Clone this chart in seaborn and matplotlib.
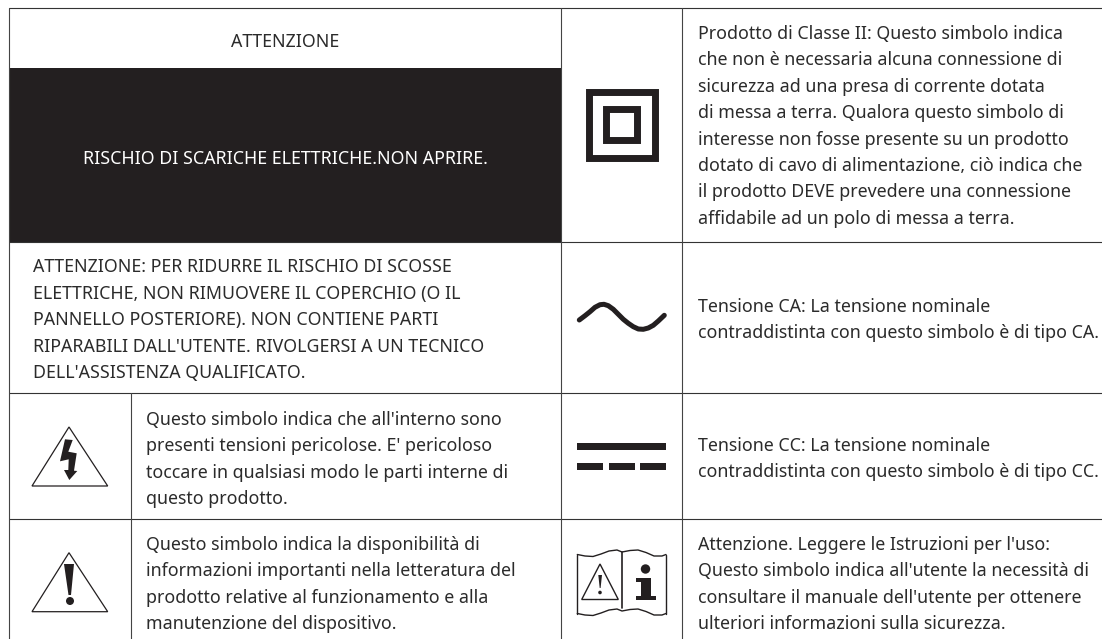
import matplotlib
matplotlib.use("Agg")
import matplotlib.pyplot as plt
import seaborn as sns
from matplotlib.patches import Polygon, Rectangle, Circle

# Text of the table, line by line
title_text = "ATTENZIONE"
banner_text = "RISCHIO DI SCARICHE ELETTRICHE.NON APRIRE."
warning_lines = [
    "ATTENZIONE: PER RIDURRE IL RISCHIO DI SCOSSE",
    "ELETTRICHE, NON RIMUOVERE IL COPERCHIO (O IL",
    "PANNELLO POSTERIORE). NON CONTIENE PARTI",
    "RIPARABILI DALL'UTENTE. RIVOLGERSI A UN TECNICO",
    "DELL'ASSISTENZA QUALIFICATO.",
]
bolt_lines = [
    "Questo simbolo indica che all'interno sono",
    "presenti tensioni pericolose. E' pericoloso",
    "toccare in qualsiasi modo le parti interne di",
    "questo prodotto.",
]
excl_lines = [
    "Questo simbolo indica la disponibilità di",
    "informazioni importanti nella letteratura del",
    "prodotto relative al funzionamento e alla",
    "manutenzione del dispositivo.",
]
class2_lines = [
    "Prodotto di Classe II: Questo simbolo indica",
    "che non è necessaria alcuna connessione di",
    "sicurezza ad una presa di corrente dotata",
    "di messa a terra. Qualora questo simbolo di",
    "interesse non fosse presente su un prodotto",
    "dotato di cavo di alimentazione, ciò indica che",
    "il prodotto DEVE prevedere una connessione",
    "affidabile ad un polo di messa a terra.",
]
ac_lines = [
    "Tensione CA: La tensione nominale",
    "contraddistinta con questo simbolo è di tipo CA.",
]
dc_lines = [
    "Tensione CC: La tensione nominale",
    "contraddistinta con questo simbolo è di tipo CC.",
]
manual_lines = [
    "Attenzione. Leggere le Istruzioni per l'uso:",
    "Questo simbolo indica all'utente la necessità di",
    "consultare il manuale dell'utente per ottenere",
    "ulteriori informazioni sulla sicurezza.",
]

# Traced icon outlines
wave_x = [579.3, 585, 590, 595, 600, 604, 608.3, 613.3, 618.3, 623.3, 628.3, 633.3, 638.3, 643.3, 648.3, 653.3, 658.3, 664.3]
wave_y = [320, 315.7, 311.7, 307.3, 304.7, 304.3, 305.7, 309.3, 314.3, 319.3, 323.3, 326.7, 329, 329.3, 328, 325.3, 321, 315.3]
bolt_x = [65, 72.7, 68.3, 76.7, 74, 77.3, 69.3, 64, 68.3, 68.7, 60]
bolt_y = [439.3, 440, 451.7, 453.3, 470.7, 471, 480, 470, 470, 459.3, 461.3]
book_top_x = [577.3, 585, 593, 601, 609, 617, 622, 630, 638, 646, 654, 662, 666]
book_top_y = [554.5, 556, 556.5, 554, 551, 550, 552, 550.5, 550, 552.5, 556, 556, 554.5]

DARK = "#231f20"
TEXT = "#2b2b2b"
FONT = 12.8
GAP = 26.4

sns.set_theme(style="white")
plt.rcParams["font.family"] = ["Noto Sans", "DejaVu Sans"]

fig, ax = plt.subplots(figsize=(11.02, 6.39), dpi=100)
ax.set_position([0, 0, 1, 1])
ax.set_xlim(0, 1102)
ax.set_ylim(639, 0)
ax.axis("off")

# banner
ax.add_patch(Rectangle((9, 68), 552, 174, color=DARK, lw=0))

# rules, no line along the bottom edge
for y in [8, 241.5, 393, 519]:
    ax.plot([9, 1102], [y, y], color="#333333", lw=0.8)
for x in [9, 561, 682]:
    ax.plot([x, x], [8, 639], color="#444444", lw=0.8)
ax.plot([130.5, 130.5], [393, 639], color="#444444", lw=0.8)


def put_lines(lines, x, first_base):
    for i, line in enumerate(lines):
        ax.text(x, first_base + i * GAP, line, fontsize=FONT, color=TEXT, va="baseline")


ax.text(285, 46.7, title_text, fontsize=FONT, color=TEXT, ha="center", va="baseline")
ax.text(285, 163.5, banner_text, fontsize=FONT, color="white", ha="center", va="baseline")
put_lines(warning_lines, 33, 272.5)
put_lines(bolt_lines, 146, 425)
put_lines(excl_lines, 146, 550)
put_lines(class2_lines, 698.5, 39)
put_lines(ac_lines, 698.5, 312)
put_lines(dc_lines, 698.5, 451)
put_lines(manual_lines, 698.5, 550)

# double insulation square
ax.add_patch(Rectangle((588.5, 91.5), 66, 66, fill=False, ec=DARK, lw=5))
ax.add_patch(Rectangle((606.2, 108.8), 31, 31, fill=False, ec=DARK, lw=5))

# AC wave
sns.lineplot(x=wave_x, y=wave_y, ax=ax, sort=False, estimator=None, color=DARK,
             lw=3.6, solid_capstyle="round")

# DC bars
ax.add_patch(Rectangle((577, 443), 89, 7, color=DARK, lw=0))
for x0 in [577, 609, 640]:
    ax.add_patch(Rectangle((x0, 463), 26, 7, color=DARK, lw=0))

# warning triangles
for top, base in [(427, 486), (552.7, 611.7)]:
    ax.add_patch(Polygon([(69, top), (107.7, base), (32, base)], closed=True, fill=False, ec=DARK, lw=0.9))
ax.add_patch(Polygon(list(zip(bolt_x, bolt_y)), closed=True, color=DARK, lw=0))
ax.add_patch(Polygon([(64, 564), (74, 564), (71, 595), (68.5, 595)], closed=True, color=DARK, lw=0))
ax.add_patch(Circle((70, 601), 4, color=DARK, lw=0))

# manual icon
sns.lineplot(x=book_top_x, y=book_top_y, ax=ax, sort=False, estimator=None, color=DARK, lw=1)
sns.lineplot(x=book_top_x, y=[v + 59 for v in book_top_y], ax=ax, sort=False, estimator=None, color=DARK, lw=1)
ax.plot([577.3, 577.3], [554.5, 613.5], color=DARK, lw=1)
ax.plot([666, 666], [554.5, 613.5], color=DARK, lw=1)
ax.plot([622, 622], [552, 608], color=DARK, lw=1.2)
ax.add_patch(Polygon([(600, 564), (618.3, 599.5), (581.7, 599.5)], closed=True, fill=False, ec=DARK, lw=1))
ax.add_patch(Polygon([(598.3, 575), (602, 575), (600.6, 588), (599.7, 588)], closed=True, color=DARK, lw=0))
ax.add_patch(Circle((600, 592.5), 1.8, color=DARK, lw=0))
ax.add_patch(Circle((645.5, 569), 4.7, color=DARK, lw=0))
ax.add_patch(Polygon([(636, 577.5), (651, 577.5), (651, 596), (655.5, 596), (655.5, 600), (636, 600),
                      (636, 596), (641, 596), (641, 581.5), (636, 581.5)], closed=True, color=DARK, lw=0))

fig.savefig("out.png", dpi=100)
